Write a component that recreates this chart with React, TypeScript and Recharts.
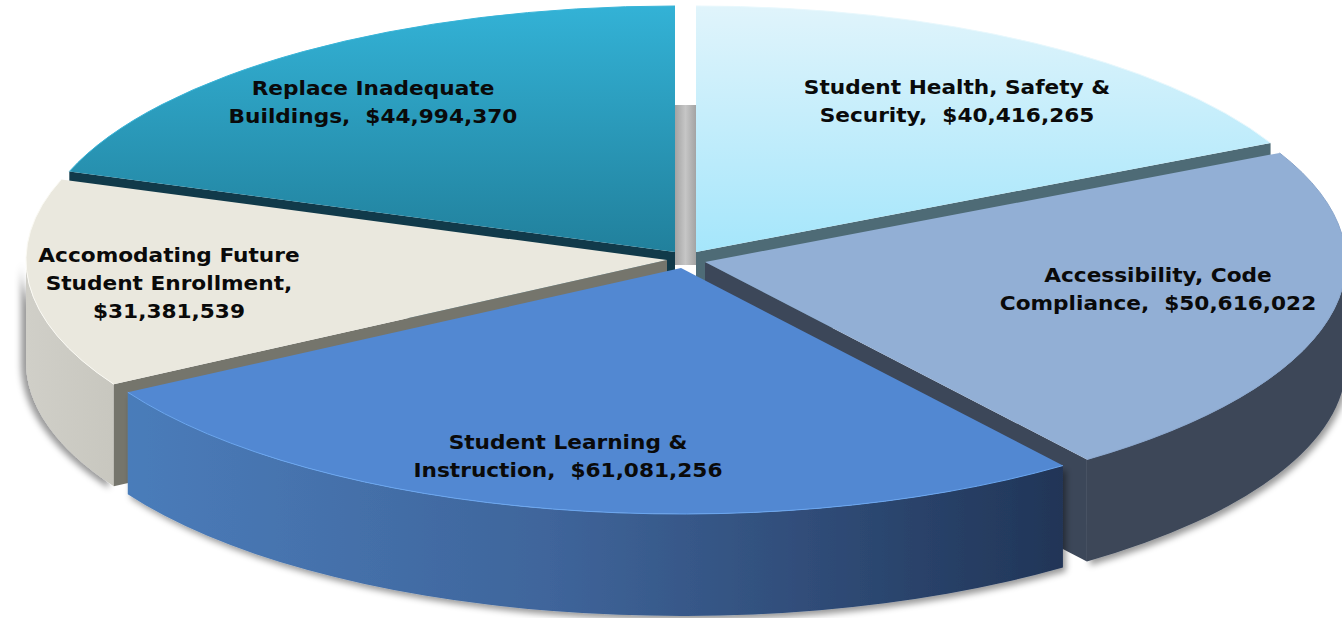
import React from "react";
import { PieChart, Pie } from "recharts";

const categoryLines: string[][] = [
  ["Student Health, Safety &", "Security,"],
  ["Accessibility, Code", "Compliance,"],
  ["Student Learning &", "Instruction,"],
  ["Accomodating Future", "Student Enrollment,"],
  ["Replace Inadequate", "Buildings,"],
];
const values: number[] = [40416265, 50616022, 61081256, 31381539, 44994370];

const rows = values.map((value, i) => ({ name: categoryLines[i].join(" "), value }));
const fmt = (v: number) => "$" + v.toLocaleString("en-US");
const labelLines = (i: number): string[] => {
  const l = categoryLines[i];
  if (i === 3) return [l[0], l[1], fmt(values[i])];
  return [l[0], l[1] + "  " + fmt(values[i])];
};

// presentation
const CX = 680, CY = 258, RADIUS = 641, SQUASH = 246 / 641, DEPTH = 102;
const offsets = [[16, -6], [25, 4], [1, 10], [-13, 2], [-5, -6]];
const labelCentres = [[957, 101.5], [1158, 289.5], [568, 456.5], [169, 283.5], [373, 102.5]];
const topFill = ["url(#t0)", "#92afd5", "#5288d2", "#eae8de", "url(#t4)"];
const rimStroke = ["#e8f8fd", "#8aa6cc", "#6aa6f0", "#fbfaf4", "#38b4d8"];
const sideFill = ["#4e6b76", "#3c4759", "url(#s2)", "url(#s3)", "#113a4a"];
const cutFill = ["#4e6b76", "#3c4759", "#22365a", "#75756c", "#113a4a"];
const layers = [[4, 0], [3, 1], [2]];

function makeShape(layer: number) {
  return function Slice(props: any) {
    const { index, startAngle, endAngle, cx, cy, outerRadius } = props;
    if (!layers[layer].includes(index)) return <g />;
    const rx = outerRadius, ry = outerRadius * SQUASH;
    const ox = cx + offsets[index][0], oy = cy + offsets[index][1];
    const t0 = 90 - startAngle, t1 = 90 - endAngle;
    const p = (t: number, d = 0): [number, number] => [
      ox + rx * Math.sin((t * Math.PI) / 180),
      oy - ry * Math.cos((t * Math.PI) / 180) + d,
    ];
    const [ax, ay] = p(t0), [bx, by] = p(t1);
    const large = t1 - t0 > 180 ? 1 : 0;
    const top = `M${ox},${oy} L${ax},${ay} A${rx},${ry} 0 ${large} 1 ${bx},${by} Z`;
    const rim = `M${ax},${ay} A${rx},${ry} 0 ${large} 1 ${bx},${by}`;
    const a = Math.max(t0, 90), b = Math.min(t1, 270);
    let side: string | null = null;
    if (b > a) {
      const [sx, sy] = p(a), [ex, ey] = p(b), [fx, fy] = p(b, DEPTH), [gx, gy] = p(a, DEPTH);
      side = `M${sx},${sy} A${rx},${ry} 0 0 1 ${ex},${ey} L${fx},${fy} A${rx},${ry} 0 0 0 ${gx},${gy} Z`;
    }
    // the radial face that looks toward the viewer
    const cutEnd = index === 0 || index === 1 ? t1 : t0;
    const [cx1, cy1] = p(cutEnd);
    const cut = index === 2 ? null
      : `M${ox},${oy} L${cx1},${cy1} L${cx1},${cy1 + DEPTH} L${ox},${oy + DEPTH} Z`;
    const shadow = index === 3 ? "url(#shL)" : "url(#shR)";
    return (
      <g>
        {index === 4 && (
          <rect
            x={ox}
            y={oy - ry + DEPTH - 3}
            width={offsets[0][0] - offsets[4][0]}
            height={ry - DEPTH + 16}
            fill="url(#gap)"
          />
        )}
        {side && <path d={side} fill={sideFill[index]} filter={shadow} />}
        {cut && <path d={cut} fill={cutFill[index]} />}
        <path d={top} fill={topFill[index]} />
        <path d={rim} fill="none" stroke={rimStroke[index]} strokeWidth={1} />
      </g>
    );
  };
}

const renderLabel = (props: any) => {
  const i = props.index;
  const lines = labelLines(i);
  const lh = 27.7;
  const [x, y] = labelCentres[i];
  const y0 = y - ((lines.length - 1) * lh) / 2 + 6.5;
  return (
    <text
      key={i}
      x={x}
      y={y0}
      textAnchor="middle"
      fontFamily="'DejaVu Sans', sans-serif"
      fontWeight={700}
      fontSize={19}
      fill="#0a0a0a"
      transform={`translate(${x} 0) scale(1.14 1) translate(${-x} 0)`}
      style={{ whiteSpace: "pre" }}
    >
      {lines.map((t, k) => (
        <tspan key={k} x={x} y={y0 + k * lh}>{t}</tspan>
      ))}
    </text>
  );
};

export default function App() {
  const common = {
    data: rows,
    dataKey: "value",
    nameKey: "name",
    cx: CX,
    cy: CY,
    innerRadius: 0,
    outerRadius: RADIUS,
    startAngle: 90,
    endAngle: -270,
    stroke: "none",
    isAnimationActive: false,
    rootTabIndex: -1,
  };
  return (
    <div style={{ position: "absolute", left: 0, top: 0, width: 1342, height: 618, background: "#fff", overflow: "hidden" }}>
      <PieChart width={1342} height={618} margin={{ top: 0, right: 0, bottom: 0, left: 0 }}>
        <defs>
          <linearGradient id="t0" x1="0" y1="0" x2="0" y2="1">
            <stop offset="0" stopColor="#e0f4fb" />
            <stop offset="1" stopColor="#a5e6fb" />
          </linearGradient>
          <linearGradient id="t4" x1="0" y1="0" x2="0" y2="1">
            <stop offset="0" stopColor="#33b2d6" />
            <stop offset="1" stopColor="#21809c" />
          </linearGradient>
          <linearGradient id="s2" x1="0" y1="0" x2="1" y2="0">
            <stop offset="0" stopColor="#4a7cba" />
            <stop offset="0.45" stopColor="#3f659b" />
            <stop offset="1" stopColor="#213557" />
          </linearGradient>
          <linearGradient id="s3" x1="0" y1="0" x2="1" y2="0">
            <stop offset="0" stopColor="#d0cfc8" />
            <stop offset="1" stopColor="#c8c7bf" />
          </linearGradient>
          <linearGradient id="gap" x1="0" y1="0" x2="1" y2="0">
            <stop offset="0" stopColor="#a3a3a3" />
            <stop offset="0.5" stopColor="#c6c6c6" />
            <stop offset="1" stopColor="#a3a3a3" />
          </linearGradient>
          <filter id="shR" x="-10%" y="-10%" width="120%" height="125%">
            <feDropShadow dx="3" dy="4" stdDeviation="3" floodColor="#000" floodOpacity="0.4" />
          </filter>
          <filter id="shL" x="-20%" y="-10%" width="140%" height="125%">
            <feDropShadow dx="-5" dy="2" stdDeviation="3" floodColor="#000" floodOpacity="0.4" />
          </filter>
        </defs>
        {layers.map((_, l) => (
          <Pie
            key={l}
            {...common}
            shape={makeShape(l)}
            inactiveShape={makeShape(l)}
            activeShape={makeShape(l)}
            label={l === layers.length - 1 ? renderLabel : false}
            labelLine={false}
          />
        ))}
      </PieChart>
    </div>
  );
}
